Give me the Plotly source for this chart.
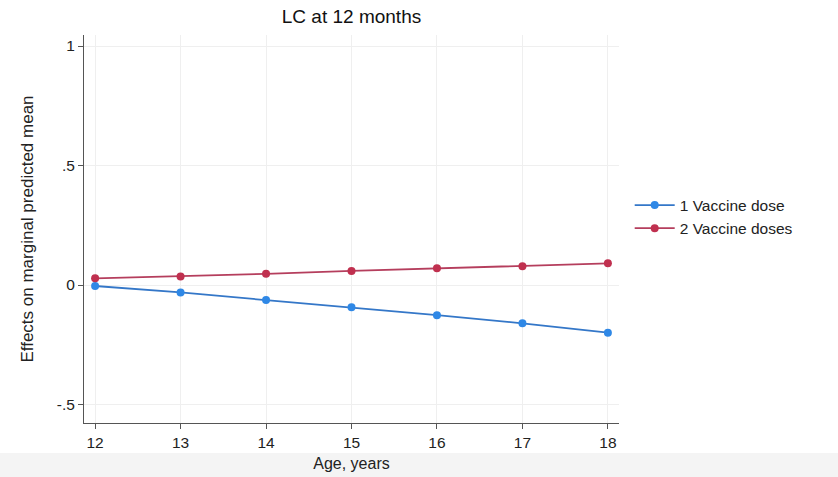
import plotly.graph_objects as go

ages = [12, 13, 14, 15, 16, 17, 18]
one_dose = [-0.004, -0.031, -0.063, -0.093, -0.126, -0.160, -0.199]
two_doses = [0.028, 0.036, 0.047, 0.059, 0.070, 0.079, 0.091]
series_names = ["1 Vaccine dose", "2 Vaccine doses"]
y_tickvals = [-0.5, 0, 0.5, 1]
y_ticktext = ["-.5", "0", ".5", "1"]

blue_m, blue_l = "#2f88e6", "#3477c8"
red_m, red_l = "#c0304f", "#b53e5d"

fig = go.Figure()
fig.add_trace(go.Scatter(x=ages, y=one_dose, mode="lines+markers", name=series_names[0],
                         line=dict(color=blue_l, width=1.8), marker=dict(color=blue_m, size=8)))
fig.add_trace(go.Scatter(x=ages, y=two_doses, mode="lines+markers", name=series_names[1],
                         line=dict(color=red_l, width=1.8), marker=dict(color=red_m, size=8)))

fig.add_shape(type="rect", xref="paper", yref="paper", x0=-0.2, x1=1.5, y0=-0.2, y1=-0.0773,
              fillcolor="#f4f4f4", line=dict(width=0), layer="below")

fig.update_layout(
    width=838, height=477,
    margin=dict(l=84, r=219, t=35, b=54),
    paper_bgcolor="white", plot_bgcolor="white",
    font=dict(family="Liberation Sans, Arial, sans-serif", color="#222", size=15),
    title=dict(text="LC at 12 months", x=0.5, xref="paper", y=0.965, yanchor="middle",
               font=dict(size=19, color="#111")),
    showlegend=True,
    legend=dict(x=1.02, y=0.531, xanchor="left", yanchor="middle", font=dict(size=15.5, color="#222"),
                bgcolor="rgba(0,0,0,0)", itemwidth=40),
    xaxis=dict(range=[11.87, 18.13], tickvals=ages, showline=True, linecolor="#555", linewidth=1,
               ticks="outside", ticklen=5, tickcolor="#555", showgrid=True, gridcolor="#efefef",
               zeroline=False, tickfont=dict(size=15.5, color="#222"), automargin=False,
               title=dict(text="Age, years", font=dict(size=16, color="#222"), standoff=8)),
    yaxis=dict(range=[-0.577, 1.046], tickvals=y_tickvals, ticktext=y_ticktext, showline=True,
               linecolor="#555", linewidth=1, ticks="outside", ticklen=5, tickcolor="#555",
               showgrid=True, gridcolor="#efefef", zeroline=False, tickfont=dict(size=15.5, color="#222"),
               automargin=False,
               title=dict(text="Effects on marginal predicted mean", font=dict(size=17, color="#222"),
                          standoff=18)),
)

fig.write_html("out.html")
